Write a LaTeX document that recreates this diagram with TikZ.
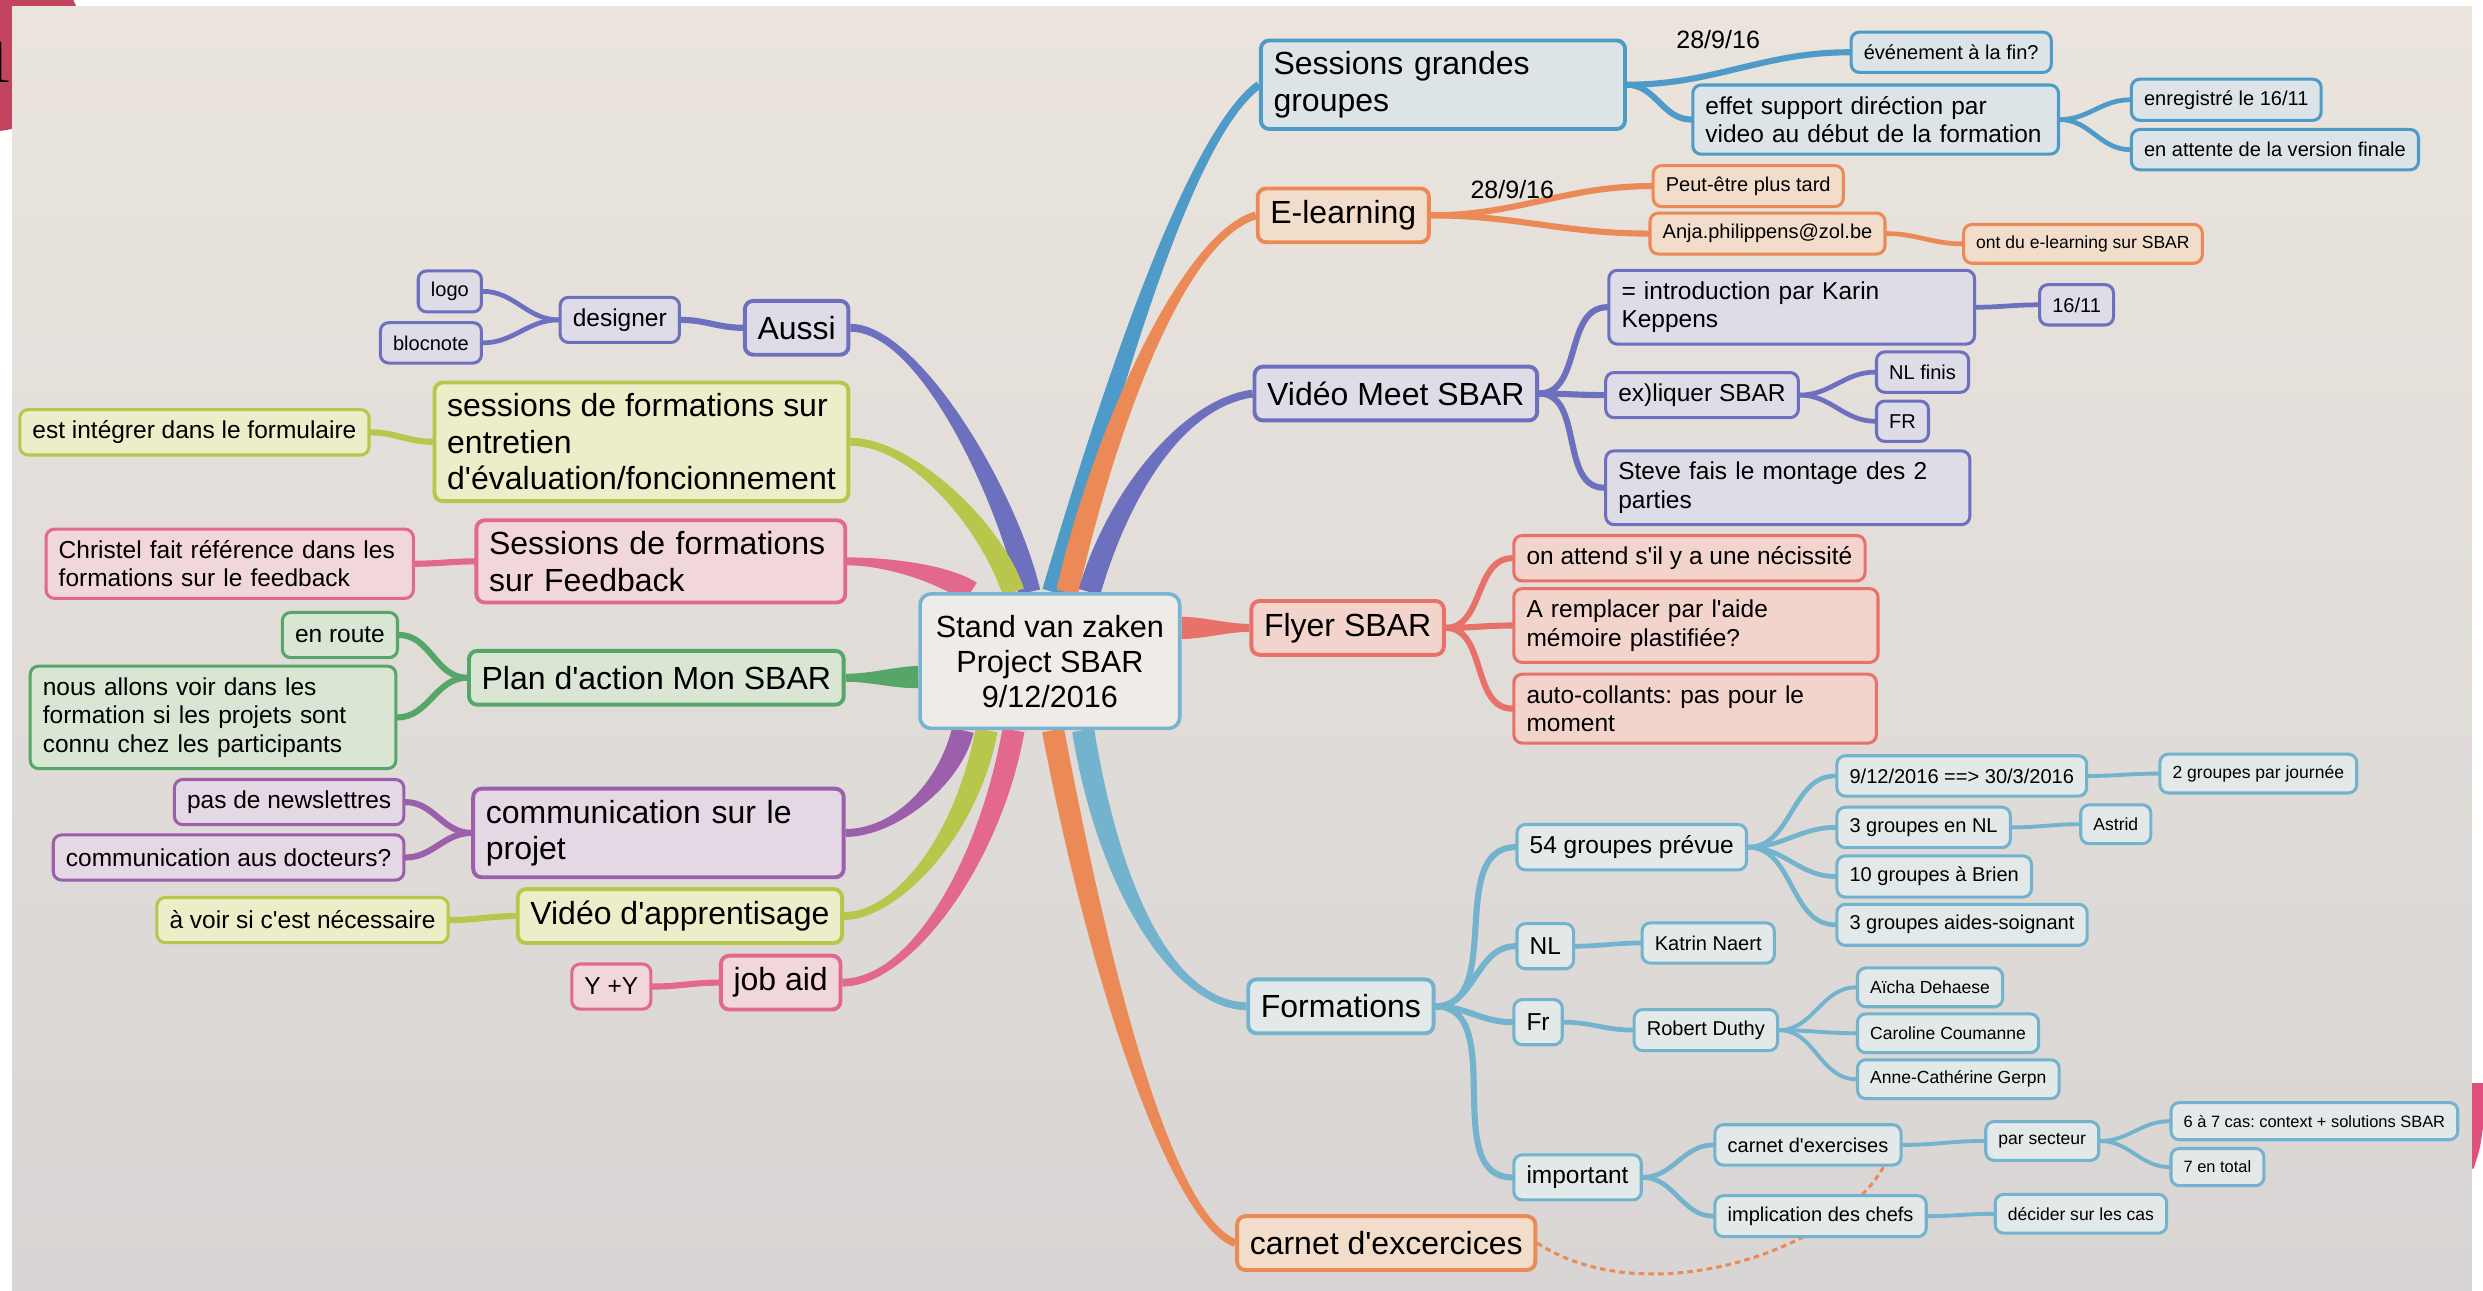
\documentclass[tikz,border=0pt]{standalone}
\usepackage{fontspec}
\newfontfamily\lib{Liberation Sans}
\usetikzlibrary{calc}
\frenchspacing

\definecolor{paperA}{HTML}{EAE4DD}
\definecolor{paperB}{HTML}{D8D5D4}
\definecolor{discred}{HTML}{C2445E}
\definecolor{edgepink}{HTML}{E0507E}
\definecolor{bluD}{HTML}{4E9BC9}\definecolor{bluL}{HTML}{DDE4E8}
\definecolor{lbD}{HTML}{74B3CD}\definecolor{lbL}{HTML}{E3E8E9}
\definecolor{oraD}{HTML}{EB8A57}\definecolor{oraL}{HTML}{F2DDCB}
\definecolor{vioD}{HTML}{6D6FBF}\definecolor{vioL}{HTML}{DEDCE6}
\definecolor{corD}{HTML}{E8716A}\definecolor{corL}{HTML}{F3D4CD}
\definecolor{pnkD}{HTML}{E2688E}\definecolor{pnkL}{HTML}{F1D6DA}
\definecolor{yelD}{HTML}{B9C64C}\definecolor{yelL}{HTML}{EEEDCA}
\definecolor{grnD}{HTML}{56A667}\definecolor{grnL}{HTML}{D9E6D4}
\definecolor{purD}{HTML}{9B5FAB}\definecolor{purL}{HTML}{E4D8E4}
\definecolor{rootD}{HTML}{78B4D2}\definecolor{rootL}{HTML}{EFECE8}

\pgfdeclarelayer{under}
\pgfsetlayers{under,main}

\tikzset{
	mbox/.style = {draw, rounded corners=3pt, line width=1.1pt, inner xsep=.16cm, inner ysep=4pt, align=left},
	lvlA/.style = {mbox, line width=1.4pt, minimum height=.68cm, font=\lib\fontsize{11.5}{13.1}\selectfont},
	lvlB/.style = {mbox, minimum height=.57cm, font=\lib\fontsize{8.8}{10.3}\selectfont},
	lvlC/.style = {mbox, minimum height=.51cm, font=\lib\fontsize{7.2}{8.5}\selectfont},
	lvlD/.style = {mbox, minimum height=.49cm, font=\lib\fontsize{6.3}{7.5}\selectfont},
	lvlE/.style = {mbox, minimum height=.47cm, font=\lib\fontsize{5.9}{7}\selectfont},
	tint/.style = {draw=#1D, fill=#1L},
	twig/.style = {#1D, line cap=round}
}

% tapered main branch: colour, start, control 1, control 2, end
\newcommand{\limb}[5]{%
	\path #2 coordinate (l0) #3 coordinate (l1) #4 coordinate (l2) #5 coordinate (l3);
	\path ($(l0)!.14cm!90:(l1)$) coordinate (a0) ($(l0)!.14cm!-90:(l1)$) coordinate (b0)
		($(l3)!.05cm!-90:(l2)$) coordinate (a3) ($(l3)!.05cm!90:(l2)$) coordinate (b3);
	\fill[#1] (a0) .. controls ($(l1)+(a0)-(l0)$) and ($(l2)+(a3)-(l3)$) .. (a3)
		-- (b3) .. controls ($(l2)+(b3)-(l3)$) and ($(l1)+(b0)-(l0)$) .. (b0) -- cycle;
}

\begin{document}
\begin{tikzpicture}[x=.02cm, y=-.02cm]
	\useasboundingbox (0,0) rectangle (1568,815);
	\begin{pgfonlayer}{under}
		\fill[white] (0,0) rectangle (1568,815);
		\fill[discred] (-6,25) circle (1.16cm);
		\node[font=\fontsize{22}{22}\selectfont, inner sep=0pt, anchor=base east] (one) at (9,52) {1};
		\fill[edgepink] (1561,684) -- (1568,684) -- (1568,712) .. controls (1566,726) .. (1562,738) -- (1561,738) -- cycle;
		\shade[top color=paperA, bottom color=paperB] (7.6,3.8) rectangle (1561,815);
	\end{pgfonlayer}

	% centre
	\node[tint=root, rounded corners=4pt, line width=1.3pt, minimum width=3.28cm, minimum height=1.7cm, align=center, font=\lib\fontsize{11}{12.6}\selectfont] (root) at (663,417.5) {Stand van zaken\\Project SBAR\\9/12/2016};

	% left side
	\node[lvlA, tint=vio, anchor=east] (aussi) at (537,207) {Aussi};
	\node[lvlB, tint=vio, anchor=east] (designer) at (430,202) {designer};
	\node[lvlC, tint=vio, anchor=east] (logo) at (305,184) {logo};
	\node[lvlC, tint=vio, anchor=east] (blocnote) at (305,216.5) {blocnote};
	\node[lvlA, tint=yel, anchor=east] (entretien) at (537,279) {sessions de formations sur\\entretien\\d'évaluation/foncionnement};
	\node[lvlB, tint=yel, anchor=east] (formulaire) at (234,273) {est intégrer dans le formulaire};
	\node[lvlA, tint=pnk, anchor=east, text width=4.34cm] (feedback) at (535,354.5) {Sessions de formations\\sur Feedback};
	\node[lvlB, tint=pnk, anchor=east, text width=4.32cm] (christel) at (262,356) {Christel fait référence dans les\\formations sur le feedback};
	\node[lvlA, tint=grn, anchor=east] (plan) at (534,428) {Plan d'action Mon SBAR};
	\node[lvlB, tint=grn, anchor=east] (enroute) at (252,401) {en route};
	\node[lvlB, tint=grn, anchor=east, text width=4.3cm] (nousallons) at (251,453) {nous allons voir dans les\\formation si les projets sont\\connu chez les participants};
	\node[lvlA, tint=pur, anchor=east, text width=4.36cm] (comm) at (534,526) {communication sur le\\projet};
	\node[lvlB, tint=pur, anchor=east] (newsl) at (256,506.5) {pas de newslettres};
	\node[lvlB, tint=pur, anchor=east] (docteurs) at (256,541.5) {communication aus docteurs?};
	\node[lvlA, tint=yel, anchor=east] (apprent) at (533,578.5) {Vidéo d'apprentisage};
	\node[lvlB, tint=yel, anchor=east] (avoir) at (284,581) {à voir si c'est nécessaire};
	\node[lvlA, tint=pnk, anchor=east] (jobaid) at (532,620.5) {job aid};
	\node[lvlB, tint=pnk, anchor=east] (yy) at (412,623) {Y +Y};

	% right side
	\node[lvlA, tint=blu, anchor=west, text width=4.28cm] (grandes) at (795,53.5) {Sessions grandes\\groupes};
	\node[lvlC, tint=blu, anchor=west] (evenement) at (1168,33) {événement à la fin?};
	\node[lvlB, tint=blu, anchor=west, text width=4.3cm] (effet) at (1068,75.5) {effet support diréction par\\video au début de la formation};
	\node[lvlC, tint=blu, anchor=west] (enreg) at (1345,63) {enregistré le 16/11};
	\node[lvlC, tint=blu, anchor=west] (attente) at (1345,94.5) {en attente de la version finale};
	\node[font=\lib\fontsize{9}{10}\selectfont] (dateA) at (1085,25) {28/9/16};

	\node[lvlA, tint=ora, anchor=west] (elearn) at (793,136) {E-learning};
	\node[lvlC, tint=ora, anchor=west] (peutetre) at (1043,117.5) {Peut-être plus tard};
	\node[lvlC, tint=ora, anchor=west] (anja) at (1041,147.5) {Anja.philippens@zol.be};
	\node[lvlD, tint=ora, anchor=west] (ontdu) at (1239,154) {ont du e-learning sur SBAR};
	\node[font=\lib\fontsize{9}{10}\selectfont] (dateB) at (955,120) {28/9/16};

	\node[lvlA, tint=vio, anchor=west] (meet) at (791,248.5) {Vidéo Meet SBAR};
	\node[lvlB, tint=vio, anchor=west, text width=4.3cm] (intro) at (1015,194) {= introduction par Karin\\Keppens};
	\node[lvlC, tint=vio, anchor=west] (novA) at (1287,192.5) {16/11};
	\node[lvlB, tint=vio, anchor=west] (expl) at (1013,249.5) {ex)liquer SBAR};
	\node[lvlC, tint=vio, anchor=west] (nlfinis) at (1184,235) {NL finis};
	\node[lvlC, tint=vio, anchor=west] (frA) at (1184,266) {FR};
	\node[lvlB, tint=vio, anchor=west, text width=4.28cm] (steve) at (1013,308) {Steve fais le montage des 2\\parties};

	\node[lvlA, tint=cor, anchor=west] (flyer) at (789,396.5) {Flyer SBAR};
	\node[lvlB, tint=cor, anchor=west] (attend) at (955,352.5) {on attend s'il y a une nécissité};
	\node[lvlB, tint=cor, anchor=west, text width=4.28cm] (rempl) at (955,395) {A remplacer par l'aide\\mémoire plastifiée?};
	\node[lvlB, tint=cor, anchor=west, text width=4.26cm] (auto) at (955,447.5) {auto-collants: pas pour le\\moment};

	\node[lvlA, tint=lb, anchor=west] (formations) at (787,635.5) {Formations};
	\node[lvlB, tint=lb, anchor=west] (gA) at (957,535) {54 groupes prévue};
	\node[lvlC, tint=lb, anchor=west] (dates) at (1159,490) {9/12/2016 ==> 30/3/2016};
	\node[lvlD, tint=lb, anchor=west] (parjour) at (1363,488.5) {2 groupes par journée};
	\node[lvlC, tint=lb, anchor=west] (gB) at (1159,522.5) {3 groupes en NL};
	\node[lvlD, tint=lb, anchor=west] (astrid) at (1313,520.5) {Astrid};
	\node[lvlC, tint=lb, anchor=west] (gC) at (1159,553.5) {10 groupes à Brien};
	\node[lvlC, tint=lb, anchor=west] (gD) at (1159,584) {3 groupes aides-soignant};
	\node[lvlB, tint=lb, anchor=west] (nl) at (957,597.5) {NL};
	\node[lvlC, tint=lb, anchor=west] (katrin) at (1036,595.5) {Katrin Naert};
	\node[lvlB, tint=lb, anchor=west] (frB) at (955,645.5) {Fr};
	\node[lvlC, tint=lb, anchor=west] (robert) at (1031,650.5) {Robert Duthy};
	\node[lvlD, tint=lb, anchor=west] (aicha) at (1172,623.5) {Aïcha Dehaese};
	\node[lvlD, tint=lb, anchor=west] (caroline) at (1172,652.5) {Caroline Coumanne};
	\node[lvlD, tint=lb, anchor=west] (anne) at (1172,681.5) {Anne-Cathérine Gerpn};
	\node[lvlB, tint=lb, anchor=west] (important) at (955,743.5) {important};
	\node[lvlC, tint=lb, anchor=west] (cex) at (1082,723) {carnet d'exercises};
	\node[lvlD, tint=lb, anchor=west] (secteur) at (1253,720.5) {par secteur};
	\node[lvlE, tint=lb, anchor=west] (sixseven) at (1370,708) {6 à 7 cas: context + solutions SBAR};
	\node[lvlE, tint=lb, anchor=west] (total) at (1370,737) {7 en total};
	\node[lvlC, tint=lb, anchor=west] (chefs) at (1082,768) {implication des chefs};
	\node[lvlD, tint=lb, anchor=west] (decider) at (1259,766.5) {décider sur les cas};

	\node[lvlA, tint=ora, anchor=west] (carnet) at (780,785) {carnet d'excercices};

	\begin{pgfonlayer}{under}
		% main branches
		\limb{vioD}{([xshift=-.26cm]root.north)}{(635,310)}{(580,207)}{(aussi.east)}
		\limb{yelD}{([xshift=-.46cm]root.north)}{(625,330)}{(575,279)}{(entretien.east)}
		\limb{pnkD}{([xshift=-1cm]root.north)}{(595,362)}{(560,354.5)}{(feedback.east)}
		\limb{grnD}{([yshift=-.2cm]root.west)}{(565,428)}{(550,428)}{(plan.east)}
		\limb{purD}{([xshift=-1.1cm]root.south)}{(600,495)}{(565,526)}{(comm.east)}
		\limb{yelD}{([xshift=-.8cm]root.south)}{(610,530)}{(565,578.5)}{(apprent.east)}
		\limb{pnkD}{([xshift=-.46cm]root.south)}{(625,545)}{(575,620.5)}{(jobaid.east)}
		\limb{bluD}{([xshift=.04cm]root.north)}{(690,290)}{(745,90)}{(grandes.west)}
		\limb{oraD}{([xshift=.22cm]root.north)}{(695,280)}{(745,150)}{(elearn.west)}
		\limb{vioD}{([xshift=.5cm]root.north)}{(705,315)}{(745,255)}{(meet.west)}
		\limb{corD}{([yshift=.42cm]root.east)}{(760,396.5)}{(775,396.5)}{(flyer.west)}
		\limb{lbD}{([xshift=.42cm]root.south)}{(700,560)}{(740,634)}{(formations.west)}
		\limb{oraD}{([xshift=.04cm]root.south)}{(695,620)}{(740,770)}{(carnet.west)}

		% left twigs
		\draw[twig=vio, line width=2.2pt] (aussi.west) to[out=180,in=0] (designer.east);
		\foreach \c in {logo,blocnote}
			\draw[twig=vio, line width=1.7pt] (designer.west) to[out=180,in=0] (\c.east);
		\draw[twig=yel, line width=2.2pt] (entretien.west) to[out=180,in=0] (formulaire.east);
		\draw[twig=pnk, line width=2.2pt] (feedback.west) to[out=180,in=0] (christel.east);
		\foreach \c in {enroute,nousallons}
			\draw[twig=grn, line width=2.2pt] (plan.west) to[out=180,in=0] (\c.east);
		\foreach \c in {newsl,docteurs}
			\draw[twig=pur, line width=2.2pt] (comm.west) to[out=180,in=0] (\c.east);
		\draw[twig=yel, line width=2.2pt] (apprent.west) to[out=180,in=0] (avoir.east);
		\draw[twig=pnk, line width=2.2pt] (jobaid.west) to[out=180,in=0] (yy.east);

		% right twigs
		\foreach \c in {evenement,effet}
			\draw[twig=blu, line width=2.2pt] (grandes.east) to[out=0,in=180] (\c.west);
		\foreach \c in {enreg,attente}
			\draw[twig=blu, line width=1.7pt] (effet.east) to[out=0,in=180] (\c.west);
		\foreach \c in {peutetre,anja}
			\draw[twig=ora, line width=2.2pt] (elearn.east) to[out=0,in=180] (\c.west);
		\draw[twig=ora, line width=1.7pt] (anja.east) to[out=0,in=180] (ontdu.west);
		\foreach \c in {intro,expl,steve}
			\draw[twig=vio, line width=2.2pt] (meet.east) to[out=0,in=180] (\c.west);
		\draw[twig=vio, line width=1.7pt] (intro.east) to[out=0,in=180] (novA.west);
		\foreach \c in {nlfinis,frA}
			\draw[twig=vio, line width=1.7pt] (expl.east) to[out=0,in=180] (\c.west);
		\foreach \c in {attend,rempl,auto}
			\draw[twig=cor, line width=2.2pt] (flyer.east) to[out=0,in=180] (\c.west);
		\foreach \c in {gA,nl,frB,important}
			\draw[twig=lb, line width=2.2pt] (formations.east) to[out=0,in=180] (\c.west);
		\foreach \c in {dates,gB,gC,gD}
			\draw[twig=lb, line width=1.7pt] (gA.east) to[out=0,in=180] (\c.west);
		\draw[twig=lb, line width=1.4pt] (dates.east) to[out=0,in=180] (parjour.west);
		\draw[twig=lb, line width=1.4pt] (gB.east) to[out=0,in=180] (astrid.west);
		\draw[twig=lb, line width=1.7pt] (nl.east) to[out=0,in=180] (katrin.west);
		\draw[twig=lb, line width=1.7pt] (frB.east) to[out=0,in=180] (robert.west);
		\foreach \c in {aicha,caroline,anne}
			\draw[twig=lb, line width=1.4pt] (robert.east) to[out=0,in=180] (\c.west);
		\foreach \c in {cex,chefs}
			\draw[twig=lb, line width=1.7pt] (important.east) to[out=0,in=180] (\c.west);
		\draw[twig=lb, line width=1.4pt] (cex.east) to[out=0,in=180] (secteur.west);
		\foreach \c in {sixseven,total}
			\draw[twig=lb, line width=1.4pt] (secteur.east) to[out=0,in=180] (\c.west);
		\draw[twig=lb, line width=1.4pt] (chefs.east) to[out=0,in=180] (decider.west);

		% relation carnet to carnet
		\draw[oraD, line width=1.1pt, dash pattern=on 2pt off 1.5pt] (carnet.east) .. controls (1040,830) and (1160,790) .. ([xshift=-.24cm]cex.south east);
	\end{pgfonlayer}
\end{tikzpicture}
\end{document}
